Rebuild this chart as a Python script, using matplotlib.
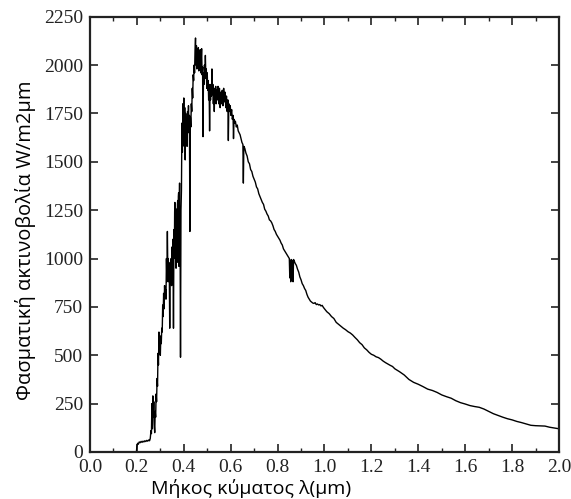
import matplotlib.pyplot as plt
from matplotlib.ticker import MultipleLocator

# wavelength (um) and spectral irradiance (W/m2um)
wavelength = [
    0.198, 0.200, 0.203, 0.206, 0.210, 0.214, 0.218, 0.222, 0.226, 0.230,
    0.234, 0.238, 0.242, 0.246, 0.250, 0.254, 0.257, 0.260, 0.262, 0.264,
    0.266, 0.268, 0.270, 0.272, 0.274, 0.276, 0.278, 0.280, 0.282, 0.284,
    0.286, 0.288, 0.290, 0.292, 0.294, 0.296, 0.298, 0.300, 0.302, 0.304,
    0.306, 0.308, 0.310, 0.312, 0.314, 0.316, 0.318, 0.320, 0.322, 0.324,
    0.326, 0.328, 0.330, 0.332, 0.334, 0.336, 0.338, 0.340, 0.342, 0.344,
    0.346, 0.348, 0.350, 0.352, 0.354, 0.356, 0.358, 0.360, 0.361, 0.362,
    0.363, 0.364, 0.365, 0.366, 0.367, 0.368, 0.369, 0.370, 0.371, 0.372,
    0.373, 0.374, 0.375, 0.376, 0.377, 0.378, 0.379, 0.380, 0.381, 0.382,
    0.383, 0.384, 0.386, 0.388, 0.390, 0.392, 0.394, 0.396, 0.398, 0.400,
    0.402, 0.404, 0.406, 0.408, 0.410, 0.412, 0.414, 0.416, 0.418, 0.420,
    0.422, 0.424, 0.426, 0.428, 0.430, 0.432, 0.434, 0.436, 0.438, 0.440,
    0.442, 0.444, 0.446, 0.448, 0.450, 0.452, 0.454, 0.456, 0.458, 0.460,
    0.462, 0.464, 0.466, 0.468, 0.470, 0.472, 0.474, 0.476, 0.478, 0.480,
    0.482, 0.484, 0.486, 0.488, 0.490, 0.492, 0.494, 0.496, 0.498, 0.500,
    0.502, 0.504, 0.506, 0.508, 0.510, 0.512, 0.514, 0.516, 0.518, 0.520,
    0.522, 0.524, 0.526, 0.528, 0.530, 0.532, 0.534, 0.536, 0.538, 0.540,
    0.543, 0.546, 0.549, 0.552, 0.555, 0.558, 0.561, 0.564, 0.567, 0.570,
    0.573, 0.576, 0.579, 0.582, 0.585, 0.588, 0.590, 0.592, 0.595, 0.598,
    0.601, 0.604, 0.607, 0.610, 0.612, 0.614, 0.617, 0.620, 0.624, 0.628,
    0.632, 0.636, 0.640, 0.644, 0.648, 0.652, 0.654, 0.656, 0.660, 0.665,
    0.670, 0.675, 0.680, 0.685, 0.690, 0.695, 0.700, 0.705, 0.710, 0.715,
    0.720, 0.725, 0.730, 0.735, 0.740, 0.745, 0.750, 0.755, 0.760, 0.765,
    0.770, 0.775, 0.780, 0.785, 0.790, 0.795, 0.800, 0.805, 0.810, 0.815,
    0.820, 0.825, 0.830, 0.835, 0.840, 0.845, 0.850, 0.852, 0.854, 0.856,
    0.858, 0.860, 0.862, 0.864, 0.866, 0.868, 0.870, 0.875, 0.880, 0.885,
    0.890, 0.895, 0.900, 0.905, 0.910, 0.915, 0.920, 0.925, 0.930, 0.935,
    0.940, 0.945, 0.950, 0.955, 0.960, 0.965, 0.970, 0.975, 0.980, 0.985,
    0.990, 0.995, 1.000, 1.010, 1.020, 1.030, 1.040, 1.050, 1.060, 1.070,
    1.080, 1.090, 1.100, 1.110, 1.120, 1.130, 1.140, 1.150, 1.160, 1.170,
    1.180, 1.190, 1.200, 1.210, 1.220, 1.230, 1.240, 1.250, 1.260, 1.270,
    1.280, 1.290, 1.300, 1.320, 1.340, 1.360, 1.380, 1.400, 1.420, 1.440,
    1.460, 1.480, 1.500, 1.520, 1.540, 1.560, 1.580, 1.600, 1.620, 1.640,
    1.660, 1.680, 1.700, 1.720, 1.740, 1.760, 1.780, 1.800, 1.820, 1.840,
    1.860, 1.880, 1.900, 1.920, 1.940, 1.960, 1.980, 2.000,
]
irradiance = [
    0, 30, 45, 40, 52, 48, 55, 50, 56, 52,
    58, 54, 60, 56, 62, 58, 70, 110, 95, 250,
    120, 290, 180, 260, 140, 100, 210, 180, 300, 260,
    380, 340, 510, 450, 620, 520, 560, 500, 600, 560,
    640, 620, 760, 700, 820, 740, 860, 800, 840, 790,
    1000, 880, 1140, 920, 1000, 880, 960, 640, 980, 900,
    1000, 860, 1060, 940, 1100, 640, 1150, 1050, 1240, 1290,
    1000, 1100, 1260, 1200, 950, 1000, 1230, 1250, 980, 1080,
    1280, 1300, 1000, 1150, 1320, 1340, 960, 1050, 1300, 1390,
    1100, 1200, 490, 1250, 1350, 1700, 1550, 1800, 1620, 1830,
    1580, 1780, 1510, 1750, 1650, 1700, 1580, 1760, 1700, 1790,
    1650, 1740, 1140, 1730, 1680, 1800, 1760, 1880, 1830, 1950,
    1920, 2000, 1960, 2080, 2140, 2000, 2100, 1980, 2060, 2000,
    2090, 1970, 2040, 1990, 2080, 1960, 2020, 2085, 1950, 1990,
    1630, 1960, 1900, 2000, 1930, 2050, 1940, 1980, 1880, 1960,
    1870, 1920, 1820, 1900, 1660, 1880, 1820, 1900, 1840, 1980,
    1850, 1900, 1800, 1870, 1760, 1880, 1820, 1890, 1800, 1870,
    1820, 1890, 1800, 1880, 1780, 1860, 1800, 1870, 1790, 1880,
    1810, 1860, 1780, 1840, 1760, 1820, 1610, 1800, 1760, 1790,
    1740, 1770, 1720, 1740, 1620, 1720, 1700, 1710, 1680, 1690,
    1660, 1650, 1640, 1620, 1600, 1590, 1390, 1580, 1570, 1545,
    1530, 1500, 1490, 1460, 1450, 1425, 1410, 1395, 1370, 1360,
    1335, 1320, 1305, 1290, 1280, 1255, 1245, 1230, 1220, 1200,
    1195, 1185, 1170, 1150, 1140, 1125, 1115, 1105, 1095, 1080,
    1070, 1050, 1040, 1030, 1020, 1010, 1000, 900, 990, 880,
    995, 990, 890, 990, 880, 995, 990, 975, 965, 945,
    930, 905, 890, 870, 860, 845, 835, 815, 800, 790,
    780, 775, 770, 768, 772, 762, 765, 760, 762, 755,
    758, 748, 740, 725, 715, 700, 690, 670, 660, 650,
    640, 632, 622, 615, 605, 592, 580, 565, 555, 538,
    528, 515, 505, 500, 492, 488, 480, 470, 462, 455,
    448, 442, 430, 415, 398, 375, 360, 350, 338, 325,
    318, 308, 295, 286, 278, 265, 255, 248, 240, 235,
    231, 222, 210, 198, 189, 180, 172, 166, 158, 152,
    145, 138, 136, 135, 134, 128, 124, 120,
]

x_label = "Μήκος κύματος λ(μm)"
y_label = "Φασματική ακτινοβολία W/m2μm"

fig = plt.figure(figsize=(5.71, 4.99), dpi=100)
ax = fig.add_axes([0.1576, 0.0942, 0.8214, 0.8723])

ax.plot(wavelength, irradiance, color="black", linewidth=1.0)

ax.set_xlim(0, 2.0)
ax.set_ylim(0, 2250)
ax.xaxis.set_major_locator(MultipleLocator(0.2))
ax.xaxis.set_minor_locator(MultipleLocator(0.1))
ax.yaxis.set_major_locator(MultipleLocator(250))

ax.tick_params(which="both", direction="in", top=True, right=True,
               labelsize=14, colors="#222222", pad=5)
ax.tick_params(which="major", length=6, width=1.2)
ax.tick_params(which="minor", length=3, width=1)
ax.xaxis.set_major_formatter(plt.FuncFormatter(lambda v, p: f"{v:.1f}"))
ax.yaxis.set_major_formatter(plt.FuncFormatter(lambda v, p: f"{int(v)}"))
for lbl in ax.get_xticklabels() + ax.get_yticklabels():
    lbl.set_fontfamily("Liberation Serif")

for sp in ax.spines.values():
    sp.set_linewidth(1.6)
    sp.set_color("#222222")

# the reference puts the x label left of centre
ax.set_xlabel(x_label, fontsize=14, family="Open Sans")
ax.xaxis.set_label_coords(0.343, -0.062)
ax.set_ylabel(y_label, fontsize=14.5, family="Open Sans")
ax.yaxis.set_label_coords(-0.115, 0.487)

fig.savefig("out.png", dpi=100)
